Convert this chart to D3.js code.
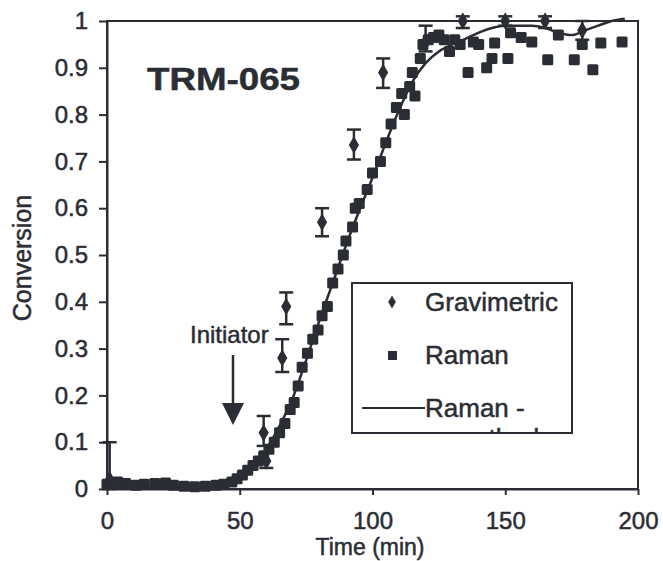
<!DOCTYPE html>
<html>
<head>
<meta charset="utf-8">
<script src="https://cdn.jsdelivr.net/npm/d3@7"></script>
<style>
  body { margin: 0; background: #fff; }
  svg text { font-family: "Liberation Sans", Arial, sans-serif; fill: #2b2d34; stroke: #2b2d34; stroke-width: 0.5; }
</style>
</head>
<body>
<svg id="chart" width="663" height="561"></svg>
<script>
// gravimetric samples (time, conversion, error bar low/high)
const gravTime = [1, 59, 60, 66, 67.5, 81, 93, 104, 120, 134, 150, 165, 179];
const gravConv = [0.02, 0.12, 0.06, 0.28, 0.39, 0.57, 0.735, 0.89, 0.955, 1.0, 1.0, 1.0, 0.98];
const gravLow  = [0.0, 0.092, 0.045, 0.25, 0.352, 0.54, 0.704, 0.857, 0.935, 0.985, 0.99, 0.985, 0.96];
const gravHigh = [0.10, 0.156, 0.08, 0.32, 0.42, 0.60, 0.768, 0.92, 0.99, 1.01, 1.01, 1.01, 1.0];

// raman measurements
const ramanTime = [0, 4, 7, 11, 14, 18, 22, 25, 29, 33, 37, 41, 44, 47, 49, 51, 53, 55, 57, 59,
  61, 63, 65, 67, 69, 70.5, 72, 73.5, 75.5, 77.5, 79.5, 81, 83, 85, 87, 89, 90, 92.5, 93.5, 95,
  98, 100, 103, 105, 107, 109, 111, 112, 114, 115, 116, 118, 119, 121, 123, 125, 127, 129, 131,
  133, 136, 138, 140, 143, 145, 146, 151, 152, 156, 160, 166, 170, 176, 179, 183, 186, 194];
const ramanConv = [0.01, 0.015, 0.012, 0.008, 0.01, 0.012, 0.013, 0.008, 0.006, 0.005, 0.006, 0.008, 0.01, 0.015, 0.022, 0.03, 0.04, 0.05, 0.06, 0.07,
  0.085, 0.1, 0.12, 0.14, 0.17, 0.185, 0.22, 0.26, 0.29, 0.32, 0.34, 0.37, 0.39, 0.44, 0.47, 0.5, 0.53, 0.56, 0.6, 0.61,
  0.64, 0.675, 0.7, 0.74, 0.78, 0.815, 0.845, 0.80, 0.86, 0.89, 0.84, 0.92, 0.95, 0.96, 0.965, 0.97, 0.96, 0.935, 0.96,
  0.95, 0.89, 0.955, 0.95, 0.9, 0.92, 0.953, 0.92, 0.975, 0.965, 0.955, 0.917, 0.97, 0.917, 0.95, 0.896, 0.953, 0.955];

// raman smoothed curve
const smoothTime = [0, 20, 40, 45, 50, 55, 60, 65, 70, 75, 80, 85, 90, 95, 100, 105, 110, 115, 120,
  125, 130, 135, 140, 145, 150, 155, 160, 165, 170, 175, 180, 185, 190, 195];
const smoothConv = [0.005, 0.005, 0.006, 0.01, 0.02, 0.045, 0.085, 0.135, 0.195, 0.275, 0.36, 0.44, 0.52, 0.595, 0.665, 0.74, 0.81, 0.87, 0.91,
  0.935, 0.95, 0.962, 0.975, 0.985, 0.99, 0.99, 0.99, 0.985, 0.975, 0.97, 0.98, 0.99, 1.0, 1.005];

const xTicks = [0, 50, 100, 150, 200];
const yTicks = [0, 0.1, 0.2, 0.3, 0.4, 0.5, 0.6, 0.7, 0.8, 0.9, 1];

const ink = "#2b2d34";
const svg = d3.select("#chart");

const x = d3.scaleLinear().domain([0, 200]).range([107, 638]);
const y = d3.scaleLinear().domain([0, 1]).range([489, 21]);

// axes
const yAxis = svg.append("g")
  .attr("transform", "translate(107,0)")
  .call(d3.axisLeft(y).tickValues(yTicks).tickSize(8).tickSizeOuter(0).tickPadding(11)
    .tickFormat(d => +d.toFixed(1)));
const xAxis = svg.append("g")
  .attr("transform", "translate(0,489)")
  .call(d3.axisBottom(x).tickValues(xTicks).tickSize(6).tickSizeOuter(0).tickPadding(17));

[yAxis, xAxis].forEach(g => {
  g.selectAll("path, line").attr("stroke", ink).attr("stroke-width", 2);
  g.selectAll("text").attr("font-size", 24).style("fill", ink);
});

// frame
svg.append("rect")
  .attr("x", x(0)).attr("y", y(1))
  .attr("width", x(200) - x(0)).attr("height", y(0) - y(1))
  .attr("fill", "none").attr("stroke", ink).attr("stroke-width", 2);

// axis titles
svg.append("text")
  .attr("x", 370).attr("y", 555)
  .attr("text-anchor", "middle").attr("font-size", 23)
  .text("Time (min)");
svg.append("text")
  .attr("transform", "translate(31,258) rotate(-90)")
  .attr("text-anchor", "middle").attr("font-size", 25)
  .text("Conversion");

// title
svg.append("text")
  .attr("x", 147).attr("y", 90)
  .attr("font-size", 32).attr("font-weight", "bold")
  .attr("textLength", 153).attr("lengthAdjust", "spacingAndGlyphs")
  .text("TRM-065");

// smoothed line
const line = d3.line().x(d => x(d[0])).y(d => y(d[1])).curve(d3.curveMonotoneX);
svg.append("path")
  .datum(smoothTime.map((t, i) => [t, smoothConv[i]]))
  .attr("d", line)
  .attr("fill", "none").attr("stroke", ink).attr("stroke-width", 2.5);

// raman squares
const sq = 11;
svg.append("g").selectAll("rect")
  .data(ramanTime.map((t, i) => [t, ramanConv[i]]))
  .join("rect")
  .attr("x", d => x(d[0]) - sq / 2).attr("y", d => y(d[1]) - sq / 2)
  .attr("width", sq).attr("height", sq).attr("rx", 1.5)
  .attr("fill", ink);

// gravimetric with error bars
const grav = gravTime.map((t, i) => ({ t, c: gravConv[i], lo: gravLow[i], hi: gravHigh[i] }));
const gg = svg.append("g").attr("stroke", ink).attr("stroke-width", 2.5);
const cap = 7;
gg.selectAll(".bar").data(grav).join("line")
  .attr("x1", d => x(d.t)).attr("x2", d => x(d.t))
  .attr("y1", d => y(d.lo)).attr("y2", d => y(d.hi));
gg.selectAll(".capHi").data(grav).join("line")
  .attr("x1", d => x(d.t) - cap).attr("x2", d => x(d.t) + cap)
  .attr("y1", d => y(d.hi)).attr("y2", d => y(d.hi));
gg.selectAll(".capLo").data(grav).join("line")
  .attr("x1", d => x(d.t) - cap).attr("x2", d => x(d.t) + cap)
  .attr("y1", d => y(d.lo)).attr("y2", d => y(d.lo));
const diamond = d3.symbol().type(d3.symbolDiamond).size(90);
svg.append("g").selectAll("path")
  .data(grav)
  .join("path")
  .attr("transform", d => `translate(${x(d.t)},${y(d.c)})`)
  .attr("d", diamond)
  .attr("fill", ink);

// initiator annotation
svg.append("text")
  .attr("x", 190).attr("y", 343).attr("font-size", 24)
  .text("Initiator");
svg.append("line")
  .attr("x1", 233).attr("x2", 233).attr("y1", 355).attr("y2", 405)
  .attr("stroke", ink).attr("stroke-width", 2.5);
svg.append("path")
  .attr("d", "M222,403 L244,403 L233,425 Z")
  .attr("fill", ink);

// legend
const lg = svg.append("g");
lg.append("clipPath").attr("id", "legclip")
  .append("rect").attr("x", 352).attr("y", 283).attr("width", 220).attr("height", 150);
lg.append("rect")
  .attr("x", 352).attr("y", 283).attr("width", 220).attr("height", 150)
  .attr("fill", "#fff").attr("stroke", ink).attr("stroke-width", 2);
lg.append("path")
  .attr("transform", "translate(392,302)")
  .attr("d", d3.symbol().type(d3.symbolDiamond).size(50))
  .attr("fill", ink);
lg.append("rect")
  .attr("x", 388).attr("y", 351).attr("width", 9).attr("height", 9)
  .attr("fill", ink);
lg.append("line")
  .attr("x1", 362).attr("x2", 425).attr("y1", 408).attr("y2", 408)
  .attr("stroke", ink).attr("stroke-width", 2);
const legText = ["Gravimetric", "Raman", "Raman -"];
const legY = [311, 364, 417];
legText.forEach((s, i) => {
  lg.append("text").attr("x", 425).attr("y", legY[i]).attr("font-size", 26).text(s);
});
lg.append("text")
  .attr("x", 425).attr("y", 447).attr("font-size", 26)
  .attr("clip-path", "url(#legclip)")
  .text("smoothed");
</script>
</body>
</html>
